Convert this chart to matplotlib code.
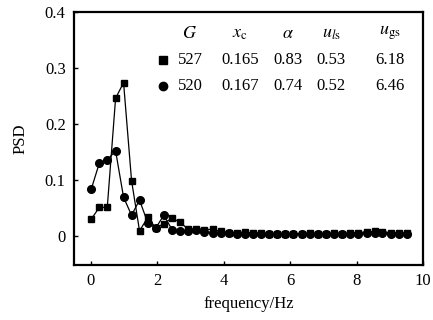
import matplotlib
matplotlib.use("Agg")
import matplotlib.pyplot as plt

plt.rcParams['font.family'] = ['Liberation Serif', 'DejaVu Serif']
plt.rcParams['mathtext.fontset'] = 'stix'

freq = [0.02, 0.26, 0.50, 0.75, 0.99, 1.23, 1.47, 1.72, 1.96, 2.20,
        2.45, 2.69, 2.94, 3.18, 3.42, 3.67, 3.91, 4.15, 4.40, 4.64,
        4.88, 5.13, 5.37, 5.61, 5.86, 6.10, 6.35, 6.59, 6.83, 7.08,
        7.32, 7.56, 7.81, 8.05, 8.30, 8.54, 8.78, 9.03, 9.27, 9.52]

psd_527 = [0.030, 0.051, 0.051, 0.246, 0.274, 0.099, 0.009, 0.033, 0.014, 0.022,
           0.032, 0.024, 0.012, 0.013, 0.011, 0.012, 0.008, 0.006, 0.006, 0.007,
           0.005, 0.005, 0.004, 0.004, 0.004, 0.004, 0.004, 0.005, 0.004, 0.004,
           0.005, 0.004, 0.005, 0.006, 0.007, 0.008, 0.007, 0.006, 0.005, 0.005]

psd_520 = [0.084, 0.130, 0.136, 0.152, 0.069, 0.037, 0.064, 0.023, 0.014, 0.037,
           0.011, 0.009, 0.008, 0.010, 0.007, 0.006, 0.005, 0.005, 0.004, 0.004,
           0.004, 0.004, 0.003, 0.003, 0.003, 0.003, 0.003, 0.003, 0.003, 0.003,
           0.003, 0.003, 0.004, 0.004, 0.005, 0.006, 0.005, 0.004, 0.004, 0.004]

headers = [r'$G$', r'$x_{\rm c}$', r'$\alpha$', r'$u_{l\rm s}$', r'$u_{\rm gs}$']
row_527 = ['527', '0.165', '0.83', '0.53', '6.18']
row_520 = ['520', '0.167', '0.74', '0.52', '6.46']

x_ticks = [0, 2, 4, 6, 8, 10]
y_ticks = [0, 0.1, 0.2, 0.3, 0.4]
y_ticklabels = ['0', '0.1', '0.2', '0.3', '0.4']

fig = plt.figure(figsize=(4.33, 3.2), dpi=100)
ax = fig.add_axes([0.171, 0.172, 0.806, 0.790])

ax.plot(freq, psd_527, color='black', lw=0.9, marker='s', ms=5,
        mfc='black', mec='black')
ax.plot(freq, psd_520, color='black', lw=0.9, marker='o', ms=5.5,
        mfc='black', mec='black')

ax.set_xlim(-0.5, 10)
ax.set_ylim(-0.052, 0.4)
ax.set_xticks(x_ticks)
ax.set_xticklabels([str(t) for t in x_ticks])
ax.set_yticks(y_ticks)
ax.set_yticklabels(y_ticklabels)
ax.tick_params(direction='in', length=3, width=1, labelsize=12, pad=6)
for s in ax.spines.values():
    s.set_linewidth(1.6)

ax.set_xlabel('frequency/Hz', fontsize=12, labelpad=5)
ax.set_ylabel('PSD', fontsize=12, labelpad=12)

# table-style legend
col_x = [190, 240, 288, 331, 390]
hdr_y, r1_y, r2_y = 33, 60, 86
def px(xp, yp):
    return xp / 433, 1 - yp / 320
for xc, h in zip(col_x, headers):
    fig.text(*px(xc, hdr_y), h, ha='center', va='center', fontsize=13)
for xc, t in zip(col_x, row_527):
    fig.text(*px(xc, r1_y), t, ha='center', va='center', fontsize=12)
for xc, t in zip(col_x, row_520):
    fig.text(*px(xc, r2_y), t, ha='center', va='center', fontsize=12)
fig.lines.append(plt.Line2D([163 / 433], [1 - r1_y / 320], transform=fig.transFigure,
                            marker='s', ms=5.5, color='black', ls=''))
fig.lines.append(plt.Line2D([163 / 433], [1 - r2_y / 320], transform=fig.transFigure,
                            marker='o', ms=6, color='black', ls=''))

fig.savefig('out.png', dpi=100)
